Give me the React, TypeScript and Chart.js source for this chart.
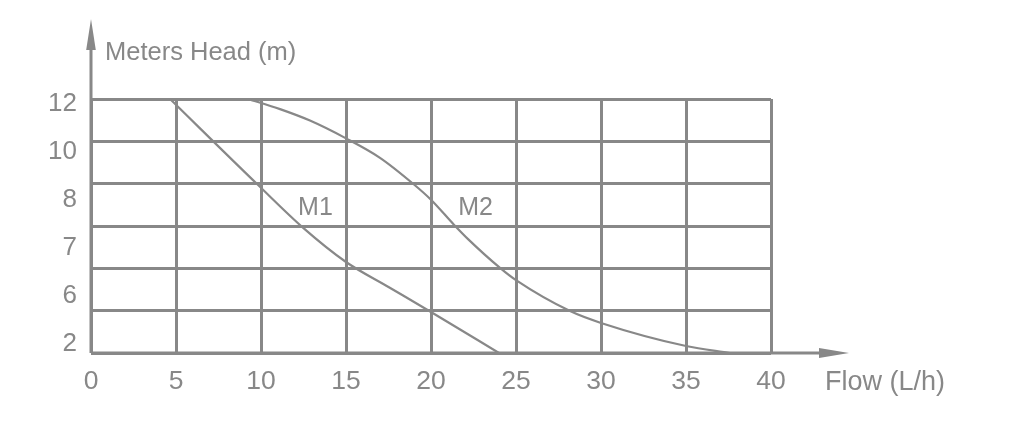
import React, { useEffect, useRef } from "react";
import { Chart, registerables } from "chart.js";

Chart.register(...registerables);

// Flow axis (L/h)
const xMin = 0;
const xMax = 40;
const xStep = 5;

// Head axis: evenly spaced grid rows (index 0..6) and its printed labels
const rowCount = 6;
const headTickLabels = ["2", "6", "7", "8", "10", "12"];

// Curve M1 (flow, grid-row value)
const m1Flow = [4.65, 9.8, 12.5, 15.0, 17.5, 20.0, 24.0];
const m1Head = [6.0, 3.98, 2.95, 2.15, 1.56, 0.97, 0];

// Curve M2 (flow, grid-row value)
const m2Flow = [9.24, 11.12, 12.88, 15.0, 17.0, 19.0, 20.0, 21.35, 22.18, 24.06, 25.0, 28.18, 30.0, 35.0, 37.59];
const m2Head = [6.0, 5.76, 5.49, 5.07, 4.61, 3.98, 3.62, 3.03, 2.69, 2.01, 1.72, 0.99, 0.71, 0.165, 0];

const seriesNames = ["M1", "M2"];
const axisTitleY = "Meters Head (m)";
const axisTitleX = "Flow (L/h)";

const GRAY = "#888888";
const FONT = "'Liberation Sans', Arial, sans-serif";

export default function App() {
  const ref = useRef<HTMLCanvasElement | null>(null);

  useEffect(() => {
    if (!ref.current) return;

    const decor = {
      id: "decor",
      afterDraw(chart: any) {
        const ctx = chart.ctx;
        const { left, bottom } = chart.chartArea;
        const xs = chart.scales.x;
        const ys = chart.scales.y;
        ctx.save();
        ctx.strokeStyle = GRAY;
        ctx.fillStyle = GRAY;
        ctx.lineWidth = 3;
        // y axis extension + arrow
        ctx.beginPath();
        ctx.moveTo(left, bottom);
        ctx.lineTo(left, 45);
        ctx.stroke();
        ctx.beginPath();
        ctx.moveTo(left, 19);
        ctx.lineTo(left - 4.8, 50);
        ctx.lineTo(left + 4.8, 50);
        ctx.closePath();
        ctx.fill();
        // x axis extension + arrow
        ctx.beginPath();
        ctx.moveTo(left, bottom);
        ctx.lineTo(825, bottom);
        ctx.stroke();
        ctx.beginPath();
        ctx.moveTo(849, bottom);
        ctx.lineTo(819, bottom - 5);
        ctx.lineTo(819, bottom + 5);
        ctx.closePath();
        ctx.fill();
        // texts
        ctx.textBaseline = "alphabetic";
        ctx.textAlign = "left";
        ctx.font = `25.5px ${FONT}`;
        ctx.fillText(axisTitleY, 105, 60);
        ctx.font = `27px ${FONT}`;
        ctx.fillText(axisTitleX, 825, 390);
        ctx.font = `25px ${FONT}`;
        ctx.fillText(seriesNames[0], xs.getPixelForValue(12.18), ys.getPixelForValue(3.26));
        ctx.fillText(seriesNames[1], xs.getPixelForValue(21.6), ys.getPixelForValue(3.26));
        ctx.restore();
      },
    };

    const chart = new Chart(ref.current, {
      type: "scatter",
      data: {
        datasets: [
          {
            label: seriesNames[0],
            data: m1Flow.map((x, i) => ({ x, y: m1Head[i] })),
            showLine: true,
            borderColor: GRAY,
            borderWidth: 2.2,
            pointRadius: 0,
            cubicInterpolationMode: "monotone",
            yAxisID: "y",
          },
          {
            label: seriesNames[1],
            data: m2Flow.map((x, i) => ({ x, y: m2Head[i] })),
            showLine: true,
            borderColor: GRAY,
            borderWidth: 2.2,
            pointRadius: 0,
            cubicInterpolationMode: "monotone",
            yAxisID: "y",
          },
        ],
      },
      options: {
        responsive: false,
        animation: false,
        layout: { padding: { top: 99, right: 251, left: 0, bottom: 0 } },
        plugins: {
          legend: { display: false },
          tooltip: { enabled: false },
          title: { display: false },
        },
        scales: {
          x: {
            type: "linear",
            min: xMin,
            max: xMax,
            position: "bottom",
            border: { display: false },
            grid: { color: GRAY, lineWidth: 3, drawTicks: false },
            ticks: {
              stepSize: xStep,
              color: GRAY,
              padding: 13,
              maxRotation: 0,
              font: { size: 26.5, family: FONT },
            },
            afterFit: (s: any) => {
              s.height = 91;
            },
          },
          y: {
            type: "linear",
            min: 0,
            max: rowCount,
            position: "left",
            border: { display: false },
            grid: { color: GRAY, lineWidth: 3, drawTicks: false },
            ticks: { display: false, stepSize: 1 },
            afterFit: (s: any) => {
              s.width = 0;
            },
          },
          yl: {
            type: "linear",
            min: -0.187,
            max: 5.104,
            position: "left",
            border: { display: false },
            grid: { display: false, drawTicks: false },
            afterBuildTicks: (s: any) => {
              s.ticks = headTickLabels.map((_, i) => ({ value: i }));
            },
            ticks: {
              color: GRAY,
              padding: 14,
              font: { size: 26, family: FONT },
              callback: (v: any) => headTickLabels[Math.round(Number(v))] ?? "",
            },
            afterFit: (s: any) => {
              s.width = 91;
            },
          },
        },
      },
      plugins: [decor],
    } as any);

    return () => chart.destroy();
  }, []);

  return (
    <div style={{ position: "fixed", left: 0, top: 0, width: 1022, height: 444, background: "#fff" }}>
      <canvas ref={ref} width={1022} height={444} />
    </div>
  );
}
